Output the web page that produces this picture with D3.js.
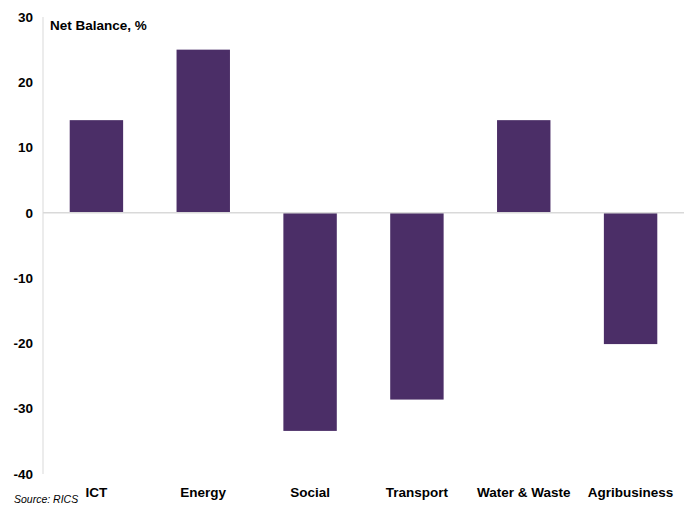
<!DOCTYPE html>
<html>
<head>
<meta charset="utf-8">
<script src="https://cdn.jsdelivr.net/npm/d3@7"></script>
<style>
  body { margin: 0; background: #fff; }
  text { font-family: "Liberation Sans", Arial, sans-serif; }
</style>
</head>
<body>
<div id="chart"></div>
<script>
"use strict";

// data
var sectors = ["ICT", "Energy", "Social", "Transport", "Water & Waste", "Agribusiness"];
var netBalance = [14.2, 25.0, -33.4, -28.6, 14.2, -20.1];
var yTicks = [30, 20, 10, 0, -10, -20, -30, -40];

var width = 688, height = 506;
var margin = { top: 17, right: 4, bottom: 32, left: 43 };

var svg = d3.select("#chart")
            .append("svg")
            .attr("width", width)
            .attr("height", height);

var x = d3.scaleBand()
          .domain(sectors)
          .range([margin.left, width - margin.right])
          .paddingInner(0.5)
          .paddingOuter(0.25);

var y = d3.scaleLinear()
          .domain([-40, 30])
          .range([height - margin.bottom, margin.top]);

// vertical axis line
svg.append("line")
   .attr("x1", margin.left).attr("x2", margin.left)
   .attr("y1", y(30)).attr("y2", y(-40))
   .attr("stroke", "#d9d9d9")
   .attr("stroke-width", 1);

// y tick labels
svg.selectAll(".ytick")
   .data(yTicks)
   .enter()
   .append("text")
   .attr("class", "ytick")
   .attr("x", 33)
   .attr("y", function(d) { return y(d); })
   .attr("dy", "0.35em")
   .attr("text-anchor", "end")
   .attr("font-size", 13.5)
   .attr("font-weight", "bold")
   .attr("fill", "#000")
   .text(function(d) { return d; });

// bars
svg.selectAll(".bar")
   .data(netBalance)
   .enter()
   .append("rect")
   .attr("class", "bar")
   .attr("x", function(d, i) { return x(sectors[i]); })
   .attr("width", x.bandwidth())
   .attr("y", function(d) { return y(Math.max(0, d)); })
   .attr("height", function(d) { return Math.abs(y(d) - y(0)); })
   .attr("fill", "#4b2e67");

// zero line
svg.append("line")
   .attr("x1", margin.left).attr("x2", width - margin.right)
   .attr("y1", y(0)).attr("y2", y(0))
   .attr("stroke", "#d9d9d9")
   .attr("stroke-width", 1.5);

// category labels
svg.selectAll(".xlabel")
   .data(sectors)
   .enter()
   .append("text")
   .attr("class", "xlabel")
   .attr("x", function(d) { return x(d) + x.bandwidth() / 2; })
   .attr("y", 497)
   .attr("text-anchor", "middle")
   .attr("font-size", 13.5)
   .attr("font-weight", "bold")
   .attr("fill", "#000")
   .text(function(d) { return d; });

// title
svg.append("text")
   .attr("x", 50)
   .attr("y", 30)
   .attr("font-size", 13.5)
   .attr("font-weight", "bold")
   .attr("fill", "#000")
   .text("Net Balance, %");

// source
svg.append("text")
   .attr("x", 14)
   .attr("y", 503)
   .attr("font-size", 10.5)
   .attr("font-style", "italic")
   .attr("fill", "#000")
   .text("Source: RICS");
</script>
</body>
</html>
